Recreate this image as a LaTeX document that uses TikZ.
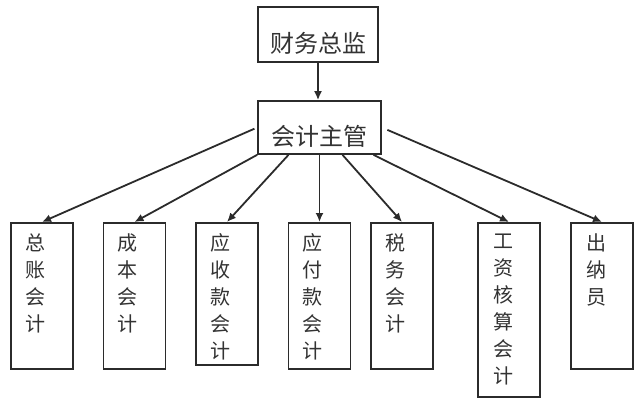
\documentclass[tikz,border=0pt]{standalone}
\usepackage{fontspec}
\newfontfamily\cjk{Noto Sans CJK SC}
\usetikzlibrary{arrows.meta}
\definecolor{linegray}{HTML}{2B2B2B}
\definecolor{textgray}{HTML}{333333}

\begin{document}
\begin{tikzpicture}[
  x=1pt, y=-1pt,
  head/.style={draw=linegray, line width=1.7pt, inner sep=0pt, text=textgray,
               font=\cjk\fontsize{24}{24}\selectfont},
  post/.style={draw=linegray, line width=1.7pt, inner sep=0pt, anchor=north,
               minimum width=62pt},
  duty/.style={anchor=north, inner sep=0pt, align=center, text=textgray,
               font=\cjk\fontsize{20}{27}\selectfont},
  arrow/.style={-{Latex[length=9pt,width=8pt]}, line width=1.8pt, draw=linegray}
]
  \useasboundingbox (0,0) rectangle (640,405);
  \node[head, minimum width=120pt, text height=45pt, text depth=10pt] (cfo) at (318,34.5) {财务总监};
  \node[head, minimum width=123pt, text height=44pt, text depth=9pt] (sup) at (319.5,127.5) {会计主管};

  \node[post, minimum height=146pt] (gl) at (42,222) {};
  \node[post, minimum height=146pt] (cost) at (134.5,222) {};
  \node[post, minimum height=142pt] (recv) at (227,222) {};
  \node[post, minimum height=146pt] (pay) at (319.5,222) {};
  \node[post, minimum height=146pt] (tax) at (402,222) {};
  \node[post, minimum height=174pt] (payroll) at (509,222) {};
  \node[post, minimum height=146pt] (cashier) at (602,222) {};

  \node[duty] (gl-t) at ([xshift=-7pt,yshift=-11.5pt]gl.north) {总\\账\\会\\计};
  \node[duty] (cost-t) at ([xshift=-7pt,yshift=-11.5pt]cost.north) {成\\本\\会\\计};
  \node[duty] (recv-t) at ([xshift=-7pt,yshift=-11.5pt]recv.north) {应\\收\\款\\会\\计};
  \node[duty] (pay-t) at ([xshift=-7pt,yshift=-11.5pt]pay.north) {应\\付\\款\\会\\计};
  \node[duty] (tax-t) at ([xshift=-7pt,yshift=-11.5pt]tax.north) {税\\务\\会\\计};
  \node[duty] (payroll-t) at ([xshift=-6pt,yshift=-11.5pt]payroll.north) {工\\资\\核\\算\\会\\计};
  \node[duty] (cashier-t) at ([xshift=-6pt,yshift=-11.5pt]cashier.north) {出\\纳\\员};

  \draw[arrow] (cfo.south) -- (cfo.south |- sup.north);
  \draw[arrow, shorten <=3pt] (sup.west) -- (gl.north);
  \draw[arrow] (sup.south west) -- (cost.north);
  \draw[arrow] ([xshift=-31pt]sup.south) -- (recv.north);
  \draw[arrow] (sup.south) -- (pay.north);
  \draw[arrow] ([xshift=23pt]sup.south) -- (tax.north);
  \draw[arrow] ([xshift=54pt]sup.south) -- (payroll.north);
  \draw[arrow, shorten <=6pt] (sup.east) -- (cashier.north);
\end{tikzpicture}
\end{document}
